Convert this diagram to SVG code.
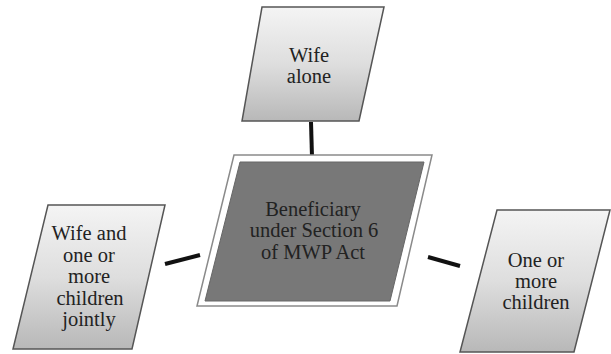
<svg xmlns="http://www.w3.org/2000/svg" width="611" height="354" viewBox="0 0 611 354">
<defs>
<linearGradient id="g" x1="0" y1="0" x2="0" y2="1">
<stop offset="0" stop-color="#f4f4f4"/>
<stop offset="0.5" stop-color="#dedede"/>
<stop offset="1" stop-color="#b8b8b8"/>
</linearGradient>
</defs>
<style>
.box{fill:url(#g);stroke:#555;stroke-width:1.5}
.c{stroke:#111;stroke-width:4;fill:none}
</style>
<rect width="611" height="354" fill="#fff"/>
<g id="connectors">
<line class="c" x1="311" y1="122" x2="312" y2="157"/>
<line class="c" x1="165" y1="264" x2="200" y2="255"/>
<line class="c" x1="428" y1="257" x2="460" y2="266"/>
</g>
<g id="center" font-family="Times New Roman" font-size="20.5" fill="#222" text-anchor="middle">
<polygon points="234,155 432,155 397,306 197,306" fill="#fff" stroke="#8a8a8a" stroke-width="1.5"/>
<polygon points="240,162 424,162 390,301 205,301" fill="#787878" stroke="#666" stroke-width="1"/>
<text x="313" y="216">Beneficiary</text>
<text x="314" y="237">under Section 6</text>
<text x="313" y="259">of MWP Act</text>
</g>
<g id="top" font-family="Times New Roman" font-size="20.5" fill="#222" text-anchor="middle">
<polygon class="box" points="262,7 384,7 359,121 242,121"/>
<text x="309" y="62">Wife</text>
<text x="309" y="83">alone</text>
</g>
<g id="left" font-family="Times New Roman" font-size="20.5" fill="#222" text-anchor="middle">
<polygon class="box" points="48,205 165,205 132,349 13,349"/>
<text x="89" y="240">Wife and</text>
<text x="89" y="262">one or</text>
<text x="89" y="283">more</text>
<text x="90" y="305">children</text>
<text x="89" y="326">jointly</text>
</g>
<g id="right" font-family="Times New Roman" font-size="20.5" fill="#222" text-anchor="middle">
<polygon class="box" points="497,210 610,210 574,352 460,352"/>
<text x="536" y="267">One or</text>
<text x="536" y="288">more</text>
<text x="536" y="309">children</text>
</g>
</svg>
